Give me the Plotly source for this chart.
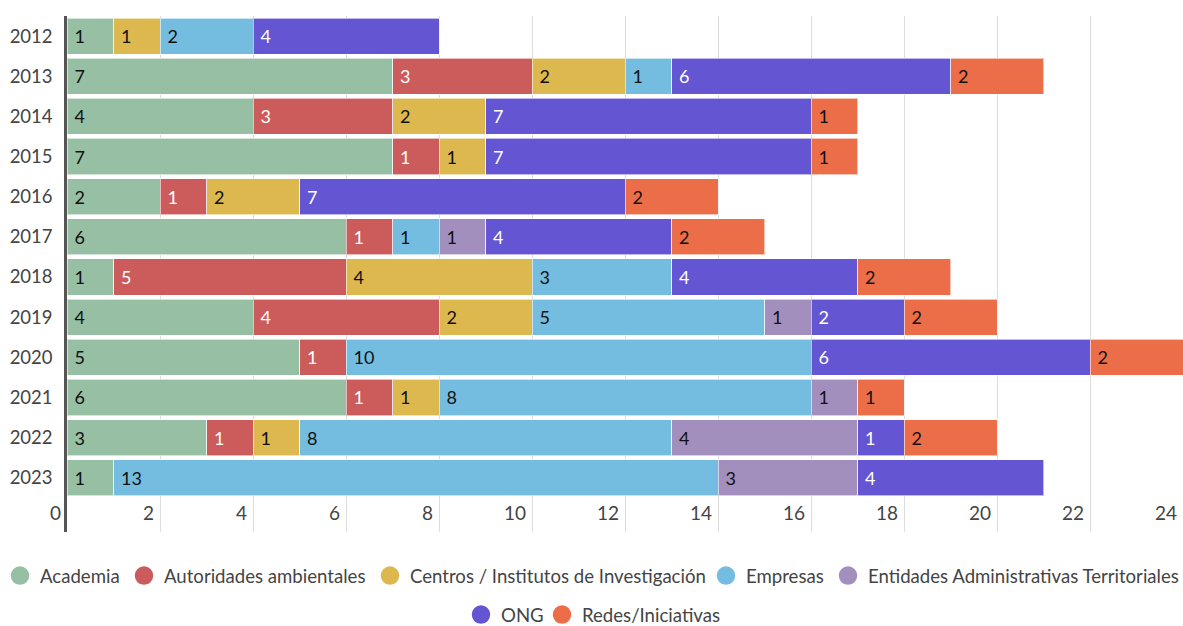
import plotly.graph_objects as go

years = ['2012', '2013', '2014', '2015', '2016', '2017', '2018', '2019', '2020', '2021', '2022', '2023']

academia = [1, 7, 4, 7, 2, 6, 1, 4, 5, 6, 3, 1]
autoridades = [None, 3, 3, 1, 1, 1, 5, 4, 1, 1, 1, None]
centros = [1, 2, 2, 1, 2, None, 4, 2, None, 1, 1, None]
empresas = [2, 1, None, None, None, 1, 3, 5, 10, 8, 8, 13]
entidades = [None, None, None, None, None, 1, None, 1, None, 1, 4, 3]
ong = [4, 6, 7, 7, 7, 4, 4, 2, 6, None, 1, 4]
redes = [None, 2, 1, 1, 2, 2, 2, 2, 2, 1, 2, None]

series_names = ['Academia', 'Autoridades ambientales', 'Centros / Institutos de Investigación',
                'Empresas', 'Entidades Administrativas Territoriales', 'ONG', 'Redes/Iniciativas']
series_values = [academia, autoridades, centros, empresas, entidades, ong, redes]
colors = ['#96bfa3', '#cc5b5b', '#ddb84e', '#74bde0', '#a38fbd', '#6455d3', '#eb6e48']
text_colors = ['#111111', '#ffffff', '#111111', '#111111', '#111111', '#ffffff', '#111111']

x_ticks = list(range(0, 25, 2))

# legend item placement (circle centre x in px, row centre y in px)
legend_pos = [(21, 576), (145, 576), (391, 576), (727, 576), (849, 576), (482, 615), (563, 615)]

W, H = 1183, 626
FONT = 'Lato'
TXT = '#444444'

fig = go.Figure()
for name, vals, col, tcol in zip(series_names, series_values, colors, text_colors):
    fig.add_trace(go.Bar(
        y=years, x=vals, name=name, orientation='h',
        marker=dict(color=col, line=dict(color='rgba(255,255,255,0.6)', width=1)),
        text=vals, texttemplate='\u00a0%{x}', textposition='inside',
        insidetextanchor='start', textangle=0,
        textfont=dict(family=FONT, size=18, color=tcol),
        constraintext='none',
        showlegend=False, hoverinfo='x+name',
    ))

legend_layouts = {}
for i, (name, col) in enumerate(zip(series_names, colors)):
    lname = 'legend' if i == 0 else f'legend{i + 1}'
    fig.add_trace(go.Scatter(
        x=[None], y=[None], mode='markers', name=name,
        marker=dict(color=col, size=16, symbol='circle', line=dict(color=col, width=2.5)),
        showlegend=True, legend=lname,
    ))
    cx, cy = legend_pos[i]
    legend_layouts[lname] = dict(
        orientation='h', xref='container', yref='container',
        x=(cx - 21) / W, xanchor='left', y=(H - cy) / H, yanchor='middle',
        font=dict(family=FONT, size=18.6, color=TXT),
        itemclick=False, itemdoubleclick=False,
        bgcolor='rgba(0,0,0,0)', borderwidth=0,
    )

fig.update_layout(
    barmode='stack',
    bargap=0.1,
    width=W, height=H,
    margin=dict(l=67, r=0, t=16, b=94, autoexpand=False),
    plot_bgcolor='white', paper_bgcolor='white',
    font=dict(family=FONT, size=18, color=TXT),
    xaxis=dict(
        range=[0, 24], tickvals=x_ticks, ticktext=[str(t) for t in x_ticks],
        showgrid=True, gridcolor='#dddddd', gridwidth=1,
        zeroline=False, showline=False, ticks='',
        ticklabelposition='inside left', ticklabeloverflow='allow',
        ticklabelshift=-6, ticklabelstandoff=2,
        tickfont=dict(family=FONT, size=19, color=TXT),
        automargin=False,
    ),
    yaxis=dict(
        type='category', categoryorder='array', categoryarray=years,
        range=[12.35, -0.5],
        showgrid=False, showline=True, linecolor='#555555', linewidth=2.5,
        ticks='', ticklabelstandoff=8,
        tickfont=dict(family=FONT, size=18.5, color=TXT),
        automargin=False,
    ),
    **legend_layouts,
)

fig.write_html('out.html', config={'displayModeBar': False},
               post_script="document.body.style.margin='0';document.body.style.overflow='hidden';")
